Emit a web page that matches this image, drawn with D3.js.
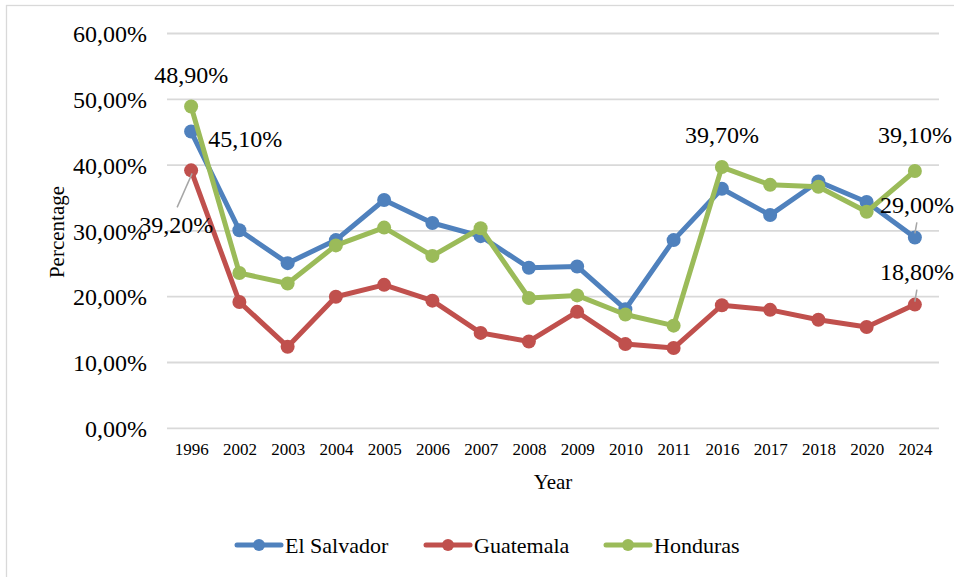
<!DOCTYPE html>
<html>
<head>
<meta charset="utf-8">
<script src="https://cdn.jsdelivr.net/npm/d3@7"></script>
<style>
  html, body { margin: 0; padding: 0; background: #ffffff; }
  svg { display: block; }
</style>
</head>
<body>
<svg id="chart" width="954" height="577"></svg>
<script>
const years = ["1996","2002","2003","2004","2005","2006","2007","2008","2009","2010","2011","2016","2017","2018","2020","2024"];
const seriesNames = ["El Salvador", "Guatemala", "Honduras"];
const elSalvador = [45.1, 30.1, 25.1, 28.6, 34.7, 31.2, 29.2, 24.4, 24.6, 18.1, 28.6, 36.4, 32.4, 37.5, 34.4, 29.0];
const guatemala  = [39.2, 19.2, 12.4, 20.0, 21.8, 19.4, 14.5, 13.2, 17.7, 12.8, 12.2, 18.7, 18.0, 16.5, 15.4, 18.8];
const honduras   = [48.9, 23.6, 22.0, 27.8, 30.5, 26.2, 30.4, 19.8, 20.2, 17.3, 15.6, 39.7, 37.0, 36.7, 32.9, 39.1];
const yTicks = [0, 10, 20, 30, 40, 50, 60];
const colors = ["#4f81bd", "#c0504d", "#9bbb59"];
const axisTitleX = "Year";
const axisTitleY = "Percentage";
// labelled points: series index, point index
const labelled = [
  {s: 2, i: 0, dx: 0, dy: -24, anchor: "middle"},
  {s: 0, i: 0, dx: 17, dy: 15, anchor: "start"},
  {s: 1, i: 0, dx: 22, dy: 63, anchor: "end", leader: [[-14, 37], [1, 3]]},
  {s: 2, i: 11, dx: 0, dy: -24, anchor: "middle"},
  {s: 2, i: 15, dx: 0, dy: -28, anchor: "middle"},
  {s: 0, i: 15, dx: 2, dy: -24, anchor: "middle", leader: [[2, -15], [0, -4]]},
  {s: 1, i: 15, dx: 2, dy: -25, anchor: "middle", leader: [[2, -15], [0, -3]]}
];

const seriesValues = [elSalvador, guatemala, honduras];
const locale = d3.formatLocale({decimal: ",", thousands: ".", grouping: [3], currency: ["", ""]});
const fmt = v => locale.format(".2f")(v) + "%";
const FONT = "'Liberation Serif', 'Times New Roman', Times, serif";

const svg = d3.select("#chart").style("font-family", FONT);

// outer frame
svg.append("rect").attr("x", 6.5).attr("y", 5.5).attr("width", 1000).attr("height", 700)
  .attr("fill", "none").attr("stroke", "#d9d9d9").attr("stroke-width", 1.3);

const x = d3.scalePoint().domain(years).range([167, 939]).padding(0.5);
const y = d3.scaleLinear().domain([0, 60]).range([428.3, 33.5]);

// gridlines
svg.append("g").selectAll("line").data(yTicks).join("line")
  .attr("x1", 167).attr("x2", 939)
  .attr("y1", d => y(d)).attr("y2", d => y(d))
  .attr("stroke", "#d9d9d9").attr("stroke-width", 1.8);

// y axis labels
const yAxis = d3.axisLeft(y).tickValues(yTicks).tickSize(0).tickPadding(0).tickFormat(fmt);
const gy = svg.append("g").attr("transform", "translate(147,0)").call(yAxis);
gy.select(".domain").remove();
gy.selectAll("text").style("font-size", "24px").style("font-family", FONT).attr("fill", "#000").attr("dy", "0.34em");

// x axis labels
const xAxis = d3.axisBottom(x).tickSize(0).tickPadding(0);
const gx = svg.append("g").attr("transform", "translate(0,443)").call(xAxis);
gx.select(".domain").remove();
gx.selectAll("text").style("font-size", "17px").style("font-family", FONT).attr("fill", "#000").attr("dy", "0.71em");

// axis titles
svg.append("text").attr("x", 553).attr("y", 489).attr("text-anchor", "middle")
  .style("font-size", "21px").style("font-family", FONT).text(axisTitleX);
svg.append("text").attr("transform", "translate(64,232) rotate(-90)").attr("text-anchor", "middle")
  .style("font-size", "21px").style("font-family", FONT).text(axisTitleY);

// lines and markers
const line = d3.line().x((d, i) => x(years[i])).y(d => y(d));
seriesValues.forEach((vals, s) => {
  const g = svg.append("g");
  g.append("path").datum(vals).attr("d", line).attr("fill", "none")
    .attr("stroke", colors[s]).attr("stroke-width", 5).attr("stroke-linejoin", "round").attr("stroke-linecap", "round");
  g.selectAll("circle").data(vals).join("circle")
    .attr("cx", (d, i) => x(years[i])).attr("cy", d => y(d)).attr("r", 7).attr("fill", colors[s]);
});

// data labels
labelled.forEach(l => {
  const v = seriesValues[l.s][l.i];
  const px = x(years[l.i]), py = y(v);
  if (l.leader) {
    svg.append("line")
      .attr("x1", px + l.leader[0][0]).attr("y1", py + l.leader[0][1])
      .attr("x2", px + l.leader[1][0]).attr("y2", py + l.leader[1][1])
      .attr("stroke", "#a6a6a6").attr("stroke-width", 1.5);
  }
  svg.append("text").attr("x", px + l.dx).attr("y", py + l.dy)
    .attr("text-anchor", l.anchor).style("font-size", "24px").style("font-family", FONT).text(fmt(v));
});

// legend
const legendX = [237, 426, 606];
const lg = svg.append("g");
seriesNames.forEach((name, s) => {
  const g = lg.append("g").attr("transform", `translate(${legendX[s]},545)`);
  g.append("line").attr("x1", 0).attr("x2", 44).attr("y1", 0).attr("y2", 0)
    .attr("stroke", colors[s]).attr("stroke-width", 5).attr("stroke-linecap", "round");
  g.append("circle").attr("cx", 22).attr("cy", 0).attr("r", 6).attr("fill", colors[s]);
  g.append("text").attr("x", 48).attr("y", 0).attr("dy", "0.35em")
    .style("font-size", "22px").style("font-family", FONT).text(name);
});
</script>
</body>
</html>
